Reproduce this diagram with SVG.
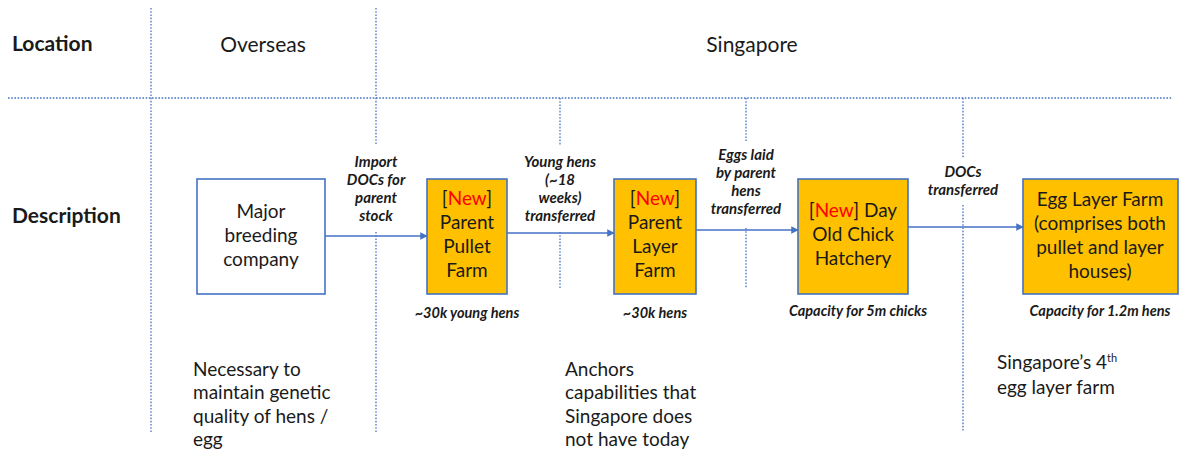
<svg xmlns="http://www.w3.org/2000/svg" width="1180" height="456" viewBox="0 0 1180 456">
<style>
text{font-family:Lato,"Open Sans","Liberation Sans",sans-serif;fill:#1a1a1a}
.hdr{font-size:21px;font-weight:bold}
.loc{font-size:21px;text-anchor:middle}
.box{font-size:19px;text-anchor:middle}
.new{fill:#ff0000}
.lbl{font-size:15px;font-weight:bold;font-style:italic;text-anchor:middle}
.cap{font-size:14.5px;font-weight:bold;font-style:italic;text-anchor:middle}
.desc{font-size:19px}
.grid{stroke:#4472c4;stroke-width:1.3;stroke-dasharray:1.6 1.6;fill:none}
.conn{stroke:#4472c4;stroke-width:1.5;fill:none}
.wbox{fill:#ffffff;stroke:#4472c4;stroke-width:1.6}
.ybox{fill:#ffc000;stroke:#4472c4;stroke-width:1.6}
</style>
<defs>
<marker id="ah" viewBox="0 0 10 10" refX="9" refY="5" markerWidth="5" markerHeight="5" orient="auto" markerUnits="strokeWidth">
<path d="M0,0 L10,5 L0,10 z" fill="#4472c4"/>
</marker>
</defs>
<rect width="1180" height="456" fill="#ffffff"/>
<g id="gridlines">
<line class="grid" x1="8" y1="98" x2="1172" y2="98"/>
<line class="grid" x1="151" y1="8" x2="151" y2="432"/>
<line class="grid" x1="376" y1="8" x2="376" y2="145"/>
<line class="grid" x1="376" y1="232" x2="376" y2="432"/>
<line class="grid" x1="560" y1="98" x2="560" y2="145"/>
<line class="grid" x1="560" y1="232" x2="560" y2="288"/>
<line class="grid" x1="746" y1="98" x2="746" y2="141"/>
<line class="grid" x1="746" y1="228" x2="746" y2="288"/>
<line class="grid" x1="963" y1="98" x2="963" y2="158"/>
<line class="grid" x1="963" y1="205" x2="963" y2="432"/>
</g>
<g id="headers">
<text class="hdr" x="12" y="51">Location</text>
<text class="loc" x="263" y="52">Overseas</text>
<text class="loc" x="752" y="52">Singapore</text>
<text class="hdr" x="12" y="223">Description</text>
</g>
<g id="connectors">
<line class="conn" x1="325" y1="236" x2="427" y2="236" marker-end="url(#ah)"/>
<line class="conn" x1="507" y1="233" x2="614" y2="233" marker-end="url(#ah)"/>
<line class="conn" x1="696" y1="230" x2="798" y2="230" marker-end="url(#ah)"/>
<line class="conn" x1="908" y1="227" x2="1023" y2="227" marker-end="url(#ah)"/>
<text class="lbl" x="376" y="167">Import</text>
<text class="lbl" x="376" y="185">DOCs for</text>
<text class="lbl" x="376" y="203">parent</text>
<text class="lbl" x="376" y="221">stock</text>
<text class="lbl" x="560" y="167">Young hens</text>
<text class="lbl" x="560" y="185">(~18</text>
<text class="lbl" x="560" y="203">weeks)</text>
<text class="lbl" x="560" y="221">transferred</text>
<text class="lbl" x="746" y="160">Eggs laid</text>
<text class="lbl" x="746" y="178">by parent</text>
<text class="lbl" x="746" y="196">hens</text>
<text class="lbl" x="746" y="214">transferred</text>
<text class="lbl" x="963" y="177">DOCs</text>
<text class="lbl" x="963" y="195">transferred</text>
</g>
<g id="node-breeding">
<rect class="wbox" x="197" y="179" width="128" height="115"/>
<text class="box" x="261" y="218">Major</text>
<text class="box" x="261" y="242">breeding</text>
<text class="box" x="261" y="266">company</text>
</g>
<g id="node-pullet">
<rect class="ybox" x="427" y="179" width="80" height="115"/>
<text class="box" x="467" y="205">[<tspan class="new">New</tspan>]</text>
<text class="box" x="467" y="229">Parent</text>
<text class="box" x="467" y="253">Pullet</text>
<text class="box" x="467" y="277">Farm</text>
<text class="cap" x="467" y="318">~30k young hens</text>
</g>
<g id="node-layer">
<rect class="ybox" x="614" y="179" width="82" height="115"/>
<text class="box" x="655" y="205">[<tspan class="new">New</tspan>]</text>
<text class="box" x="655" y="229">Parent</text>
<text class="box" x="655" y="253">Layer</text>
<text class="box" x="655" y="277">Farm</text>
<text class="cap" x="655" y="318">~30k hens</text>
</g>
<g id="node-hatchery">
<rect class="ybox" x="798" y="179" width="110" height="115"/>
<text class="box" x="853" y="217">[<tspan class="new">New</tspan>] Day</text>
<text class="box" x="853" y="241">Old Chick</text>
<text class="box" x="853" y="265">Hatchery</text>
<text class="cap" x="858" y="316">Capacity for 5m chicks</text>
</g>
<g id="node-egglayer">
<rect class="ybox" x="1023" y="179" width="155" height="115"/>
<text class="box" x="1100" y="206">Egg Layer Farm</text>
<text class="box" x="1100" y="230">(comprises both</text>
<text class="box" x="1100" y="254">pullet and layer</text>
<text class="box" x="1100" y="278">houses)</text>
<text class="cap" x="1100" y="316">Capacity for 1.2m hens</text>
</g>
<g id="descriptions">
<text class="desc" x="193" y="376">Necessary to</text>
<text class="desc" x="193" y="399">maintain genetic</text>
<text class="desc" x="193" y="423">quality of hens /</text>
<text class="desc" x="193" y="446">egg</text>
<text class="desc" x="565" y="376">Anchors</text>
<text class="desc" x="565" y="399">capabilities that</text>
<text class="desc" x="565" y="423">Singapore does</text>
<text class="desc" x="565" y="446">not have today</text>
<text class="desc" x="997" y="369">Singapore’s 4<tspan dy="-7" style="font-size:11px">th</tspan></text>
<text class="desc" x="997" y="394">egg layer farm</text>
</g>
</svg>
